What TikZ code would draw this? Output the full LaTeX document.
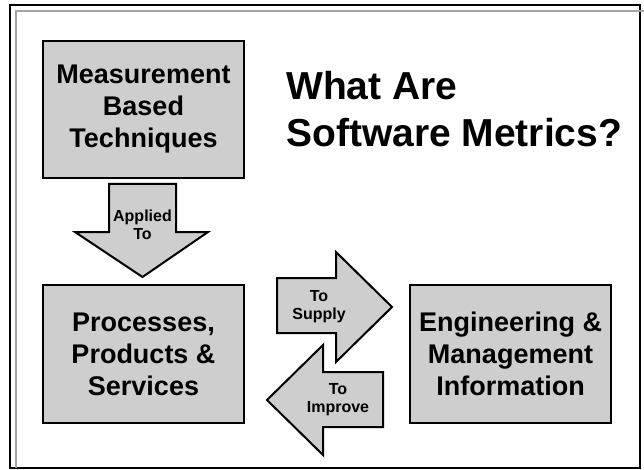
\documentclass[tikz,border=0pt]{standalone}
\usepackage{fontspec}
\setmainfont{Liberation Sans}
\usepackage{tikz}

\definecolor{boxgray}{RGB}{206,206,206}
\definecolor{framegray}{RGB}{165,165,165}

\begin{document}
\begin{tikzpicture}[x=1pt,y=-1pt,
  infobox/.style={draw,line width=2pt,fill=boxgray,minimum width=201pt,
    inner sep=0pt,align=center,font=\fontsize{27}{32}\selectfont\bfseries},
  blockarrow/.style={draw,line width=2pt,fill=boxgray,line join=miter},
  arrowtext/.style={inner sep=0pt,align=center,font=\fontsize{16}{18}\selectfont\bfseries}]

\useasboundingbox (0,0) rectangle (644,470);

% frame
\draw[line width=1.5pt] (10,5) rectangle (640,468);
\draw[framegray,line width=1.5pt] (16,468) -- (16,11) -- (644,11);

% boxes
\node[infobox,minimum height=137pt] (MBT) at (143.5,109.5) {Measurement\\Based\\Techniques};
\node[infobox,minimum height=138pt] (PPS) at (143.5,354) {Processes,\\Products \&\\Services};
\node[infobox,minimum height=138pt] (EMI) at (510.5,354) {Engineering \&\\Management\\Information};

% title
\node[anchor=base west,inner sep=0pt,align=left,
      font=\fontsize{39}{47}\selectfont\bfseries] (title) at (286,147) {What Are\\Software Metrics?};

% arrows
\draw[blockarrow] (109,184) -- (176,184) -- (176,232) -- (208,232) -- (142.5,277)
  -- (75,232) -- (109,232) -- cycle;
\node[arrowtext] (applied) at (142.5,225) {Applied\\To};

\draw[blockarrow] (277,278) -- (336,278) -- (336,252) -- (392,307) -- (336,362)
  -- (336,333) -- (277,333) -- cycle;
\node[arrowtext] (supply) at (319,306.5) {To\\Supply};

\draw[blockarrow] (383,372) -- (323,372) -- (323,345) -- (267,400) -- (323,455)
  -- (323,427) -- (383,427) -- cycle;
\node[arrowtext] (improve) at (338,400) {To\\Improve};

\end{tikzpicture}
\end{document}
